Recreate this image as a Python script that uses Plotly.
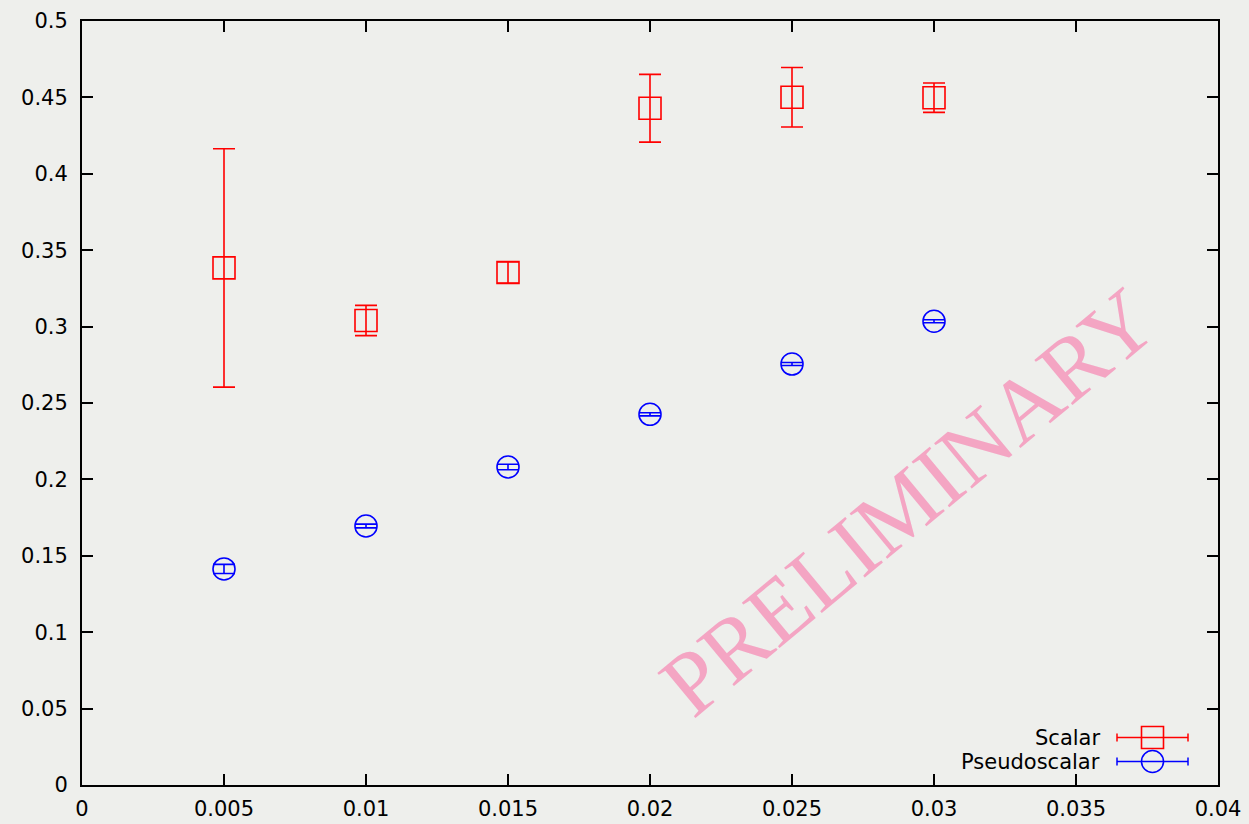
import plotly.graph_objects as go

# ---- data ----
x_vals = [0.005, 0.010, 0.015, 0.020, 0.025, 0.030]
scalar_y = [0.3384, 0.3040, 0.3354, 0.4429, 0.4501, 0.4498]
scalar_err = [0.0780, 0.0099, 0.0069, 0.0222, 0.0195, 0.0096]
pseudo_y = [0.1414, 0.1695, 0.2081, 0.2426, 0.2755, 0.3035]
pseudo_err = [0.0030, 0.0012, 0.0018, 0.0010, 0.0010, 0.0010]

x_ticks = [0, 0.005, 0.01, 0.015, 0.02, 0.025, 0.03, 0.035, 0.04]
x_ticktext = ["0", "0.005", "0.01", "0.015", "0.02", "0.025", "0.03", "0.035", "0.04"]
y_ticks = [0, 0.05, 0.1, 0.15, 0.2, 0.25, 0.3, 0.35, 0.4, 0.45, 0.5]
y_ticktext = ["0", "0.05", "0.1", "0.15", "0.2", "0.25", "0.3", "0.35", "0.4", "0.45", "0.5"]

series_names = ["Scalar", "Pseudoscalar"]
watermark = "PRELIMINARY"

BG = "#eeefec"
FONT = "DejaVu Sans"

fig = go.Figure()
fig.add_trace(go.Scatter(
    x=x_vals, y=scalar_y, mode="markers", name=series_names[0],
    marker=dict(symbol="square-open", size=22, color="#ff0000", line=dict(width=1.6)),
    error_y=dict(type="data", array=scalar_err, visible=True, color="#ff0000", thickness=1.6, width=11),
    showlegend=False,
))
fig.add_trace(go.Scatter(
    x=x_vals, y=pseudo_y, mode="markers", name=series_names[1],
    marker=dict(symbol="circle-open", size=22, color="#0000ff", line=dict(width=1.6)),
    error_y=dict(type="data", array=pseudo_err, visible=True, color="#0000ff", thickness=1.6, width=11),
    showlegend=False,
))

axis_common = dict(
    showgrid=False, zeroline=False, showline=True, linecolor="black", linewidth=2,
    mirror="ticks", ticks="inside", ticklen=11, tickwidth=1.5, tickcolor="black",
    tickfont=dict(family=FONT, size=21, color="black"), automargin=False,
)
fig.update_xaxes(range=[0, 0.04], tickvals=x_ticks, ticktext=x_ticktext, ticklabelstandoff=4, **axis_common)
fig.update_yaxes(range=[0, 0.5], tickvals=y_ticks, ticktext=y_ticktext, ticklabelstandoff=8, **axis_common)

# watermark
fig.add_annotation(
    x=0.0291, y=0.1855, xref="x", yref="y", text=watermark, showarrow=False,
    textangle=-39.7, font=dict(family="Liberation Serif", size=90, color="rgba(243,160,193,0.95)"),
    xanchor="center", yanchor="middle",
)

# manual legend (gnuplot style: text left, sample right)
W = 1136.0
H = 764.0
leg_text_x = (1102 - 82) / W
leg_rows = [(785 - 737.5) / H, (785 - 761.5) / H]
colors = ["#ff0000", "#0000ff"]
line_x0 = (1117 - 82) / W
line_x1 = (1188 - 82) / W
mk_x = (1152.5 - 82) / W
hx = 11 / W
hy = 11 / H
cy = 4 / H
for i, (name, col) in enumerate(zip(series_names, colors)):
    yy = leg_rows[i]
    fig.add_annotation(x=leg_text_x, y=yy, xref="paper", yref="paper", text=name,
                       showarrow=False, xanchor="right", yanchor="middle",
                       font=dict(family=FONT, size=21, color="black"))
    fig.add_shape(type="line", xref="paper", yref="paper", x0=line_x0, x1=line_x1, y0=yy, y1=yy,
                  line=dict(color=col, width=1.5))
    for xe in (line_x0, line_x1):
        fig.add_shape(type="line", xref="paper", yref="paper", x0=xe, x1=xe, y0=yy - cy, y1=yy + cy,
                      line=dict(color=col, width=1.5))
    fig.add_shape(type="rect" if i == 0 else "circle", xref="paper", yref="paper",
                  x0=mk_x - hx, x1=mk_x + hx, y0=yy - hy, y1=yy + hy,
                  line=dict(color=col, width=1.6))

fig.update_layout(
    template="none",
    width=1249, height=824,
    margin=dict(l=82, r=31, t=21, b=39, autoexpand=False),
    paper_bgcolor=BG, plot_bgcolor=BG,
    showlegend=False,
)

fig.write_html(
    "out.html",
    config={"displayModeBar": False},
    post_script="document.body.style.margin='0';document.body.style.background='" + BG + "';document.documentElement.style.overflow='hidden';",
)
